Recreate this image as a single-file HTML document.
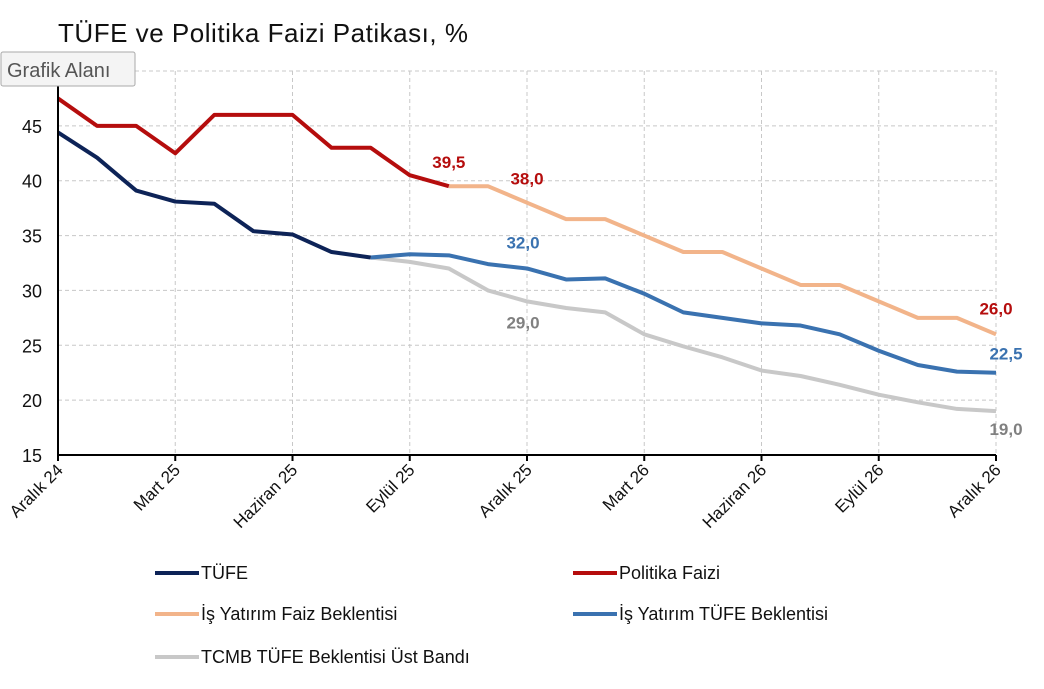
<!DOCTYPE html>
<html><head><meta charset="utf-8"><style>
body{margin:0;background:#fff;width:1044px;height:684px;overflow:hidden;font-family:"Liberation Sans",sans-serif}
</style></head><body>
<svg id="c" width="1044" height="684" xmlns="http://www.w3.org/2000/svg" font-family="Liberation Sans, sans-serif">
<text x="58" y="42" font-size="26" textLength="410" fill="#111">TÜFE ve Politika Faizi Patikası, %</text>
<g id="grid"></g><g id="series"></g><g id="axes"></g><g id="labels"></g><g id="legend"></g>
<g>
<rect x="1" y="52" width="134" height="34" fill="#f4f4f4" stroke="#aaa" rx="2"/>
<text x="7" y="77" font-size="20" fill="#555">Grafik Alanı</text></g>
</svg>
<script>
const categories=["Aralık 24","Ocak 25","Şubat 25","Mart 25","Nisan 25","Mayıs 25","Haziran 25","Temmuz 25","Ağustos 25","Eylül 25","Ekim 25","Kasım 25","Aralık 25","Ocak 26","Şubat 26","Mart 26","Nisan 26","Mayıs 26","Haziran 26","Temmuz 26","Ağustos 26","Eylül 26","Ekim 26","Kasım 26","Aralık 26"];
const tufe=[44.4,42.1,39.1,38.1,37.9,35.4,35.1,33.5,33.0];
const politika=[47.5,45,45,42.5,46,46,46,43,43,40.5,39.5];
const isFaiz=[null,null,null,null,null,null,null,null,null,null,39.5,39.5,38,36.5,36.5,35,33.5,33.5,32,30.5,30.5,29,27.5,27.5,26];
const isTufe=[null,null,null,null,null,null,null,null,33.0,33.3,33.2,32.4,32.0,31.0,31.1,29.7,28.0,27.5,27.0,26.8,26.0,24.5,23.2,22.6,22.5];
const tcmb=[null,null,null,null,null,null,null,null,33.0,32.6,32.0,30.0,29.0,28.4,28.0,26.0,24.9,23.9,22.7,22.2,21.4,20.5,19.8,19.2,19.0];
const yTicks=[15,20,25,30,35,40,45,50];
const NS="http://www.w3.org/2000/svg";
const X0=58,X1=996,Y0=455,Y1=71,ymin=15,ymax=50;
const xs=i=>X0+(X1-X0)*i/(categories.length-1);
const ys=v=>Y0-(Y0-Y1)*(v-ymin)/(ymax-ymin);
function mk(t,a,p){const e=document.createElementNS(NS,t);for(const k in a)e.setAttribute(k,a[k]);p.appendChild(e);return e;}
const grid=document.getElementById('grid'),axes=document.getElementById('axes'),ser=document.getElementById('series'),lab=document.getElementById('labels'),leg=document.getElementById('legend');
yTicks.forEach(v=>{
 if(v>ymin){const l=mk('line',{x1:X0,x2:X1,y1:ys(v),y2:ys(v),stroke:'#c8c8c8','stroke-dasharray':'4,3'},grid);
 
 }
 if(v<50){const t=mk('text',{x:42,y:ys(v)+7,'font-size':18,'text-anchor':'end',fill:'#111'},axes);t.textContent=v;
 
 }
});
categories.forEach((c,i)=>{
 if(i%3!==0)return;
 const x=xs(i);
 if(i>0){const g=mk('line',{x1:x,x2:x,y1:Y1,y2:Y0,stroke:'#c8c8c8','stroke-dasharray':'4,3'},grid);
 
 }
 mk('line',{x1:x,x2:x,y1:Y0,y2:Y0+6,stroke:'#000','stroke-width':2},axes);
 const t=mk('text',{x:x+6,y:Y0+16,'font-size':17,'text-anchor':'end',fill:'#111',transform:`rotate(-45 ${x+6} ${Y0+16})`},axes);t.textContent=c;
 
 
});
mk('line',{x1:X0,x2:X0,y1:Y1,y2:Y0+1,stroke:'#000','stroke-width':2},axes);
mk('line',{x1:X0,x2:X1,y1:Y0,y2:Y0,stroke:'#000','stroke-width':2},axes);
function line(data,color,name){
 const pts=[];data.forEach((v,i)=>{if(v!=null)pts.push(xs(i)+','+ys(v));});
 const p=mk('polyline',{points:pts.join(' '),fill:'none',stroke:color,'stroke-width':4,'stroke-linejoin':'round'},ser);
 
 
}
line(tcmb,'#c8c8c8','tcmb-upper-band-line');
line(isTufe,'#3a72b0','is-tufe-line');
line(isFaiz,'#f2b48a','is-faiz-line');
line(tufe,'#0d2357','tufe-line');
line(politika,'#b50d0d','politika-faizi-line');
function lbl(i,v,dx,dy,color){
 const t=mk('text',{x:xs(i)+dx,y:ys(v)+dy,'font-size':17,'font-weight':'bold','text-anchor':'middle',fill:color},lab);
 t.textContent=v.toFixed(1).replace('.',',');
 
 
}
lbl(10,politika[10],0,-18,'#b50d0d');
lbl(12,isFaiz[12],0,-18,'#b50d0d');
lbl(12,isTufe[12],-4,-20,'#3a72b0');
lbl(12,tcmb[12],-4,27,'#808080');
lbl(24,isFaiz[24],0,-20,'#b50d0d');
lbl(24,isTufe[24],10,-13,'#3a72b0');
lbl(24,tcmb[24],10,24,'#808080');
const L=[['TÜFE','#0d2357',155,573],['Politika Faizi','#b50d0d',573,573],['İş Yatırım Faiz Beklentisi','#f2b48a',155,614],['İş Yatırım TÜFE Beklentisi','#3a72b0',573,614],['TCMB TÜFE Beklentisi Üst Bandı','#c8c8c8',155,657]];
L.forEach(([n,c,x,y])=>{
 const g=mk('g',{},leg);
 
 
 mk('line',{x1:x,x2:x+44,y1:y,y2:y,stroke:c,'stroke-width':4},g);
 const t=mk('text',{x:x+46,y:y+6,'font-size':18,fill:'#111'},g);t.textContent=n;
});
</script>
</body></html>
